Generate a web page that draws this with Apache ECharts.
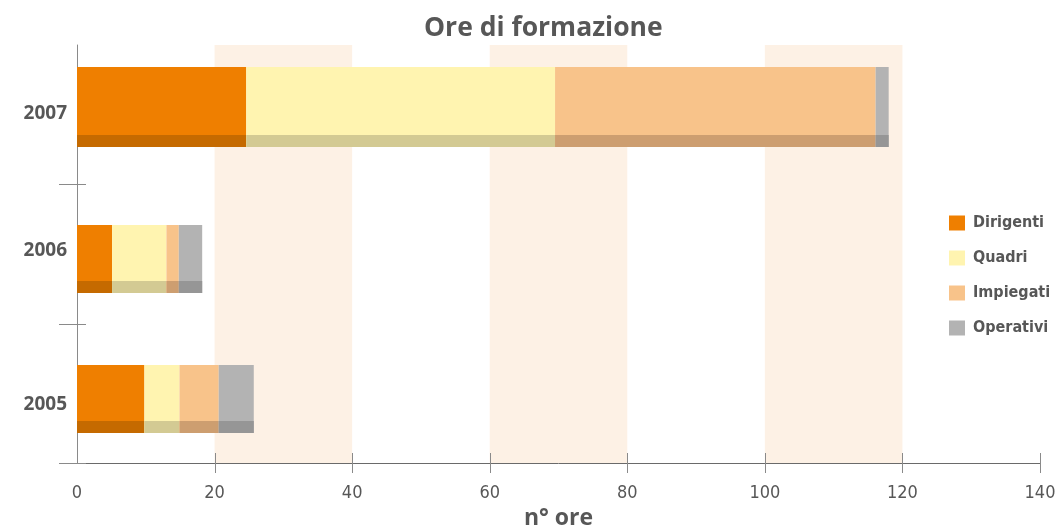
<!DOCTYPE html>
<html>
<head>
<meta charset="utf-8">
<script src="https://cdn.jsdelivr.net/npm/echarts@6/dist/echarts.min.js"></script>
<style>
  html, body { margin: 0; padding: 0; background: #ffffff; }
  #chart { width: 1055px; height: 525px; }
</style>
</head>
<body>
<div id="chart"></div>
<script>
// Training hours per year, split by staff group
const categories = ['2005', '2006', '2007'];
const dirigenti = [9.8, 5.1, 24.6];
const quadri    = [5.1, 7.9, 44.9];
const impiegati = [5.7, 1.8, 46.6];
const operativi = [5.1, 3.4, 1.9];
const xTicks = { min: 0, max: 140, interval: 20 };

const groups = [
  { name: 'Dirigenti', values: dirigenti, color: '#EF7F00', dark: '#C56A00' },
  { name: 'Quadri',    values: quadri,    color: '#FFF4B0', dark: '#D3CA93' },
  { name: 'Impiegati', values: impiegati, color: '#F8C38A', dark: '#CD9E70' },
  { name: 'Operativi', values: operativi, color: '#B3B3B3', dark: '#969696' }
];

// bar thickness (px) and vertical nudge from the band centre, per category
const barThickness = [68, 68, 80];
const barNudge = [6, 5, -8];
// label padding [top, bottom] per category, shifting the year labels a little
const labelPad = [[22, 0], [0, 6], [0, 2]];
// shaded strip along the bottom of each bar
const stripHeight = 12;

const textColor = '#575757';
const axisColor = '#8a8a8a';
const narrowFont = '"DejaVu Sans Condensed", "Liberation Sans Narrow", "Open Sans", sans-serif';
const yearFont = { fontFamily: '"Open Sans", sans-serif', fontWeight: 'bold', fontSize: 19, color: textColor };

// rich styles for the year labels
const yearRich = {};
categories.forEach((c, i) => {
  yearRich['y' + i] = Object.assign({}, yearFont, { padding: [labelPad[i][0], 0, labelPad[i][1], 0] });
});

// stacked [start, end, categoryIndex] triples
const running = categories.map(() => 0);
const stackedSeries = groups.map(g => {
  const data = g.values.map((v, i) => {
    const s = running[i];
    running[i] += v;
    return [s, s + v, i];
  });
  return {
    name: g.name,
    type: 'custom',
    itemStyle: { color: g.color },
    encode: { x: [0, 1], y: 2 },
    data: data,
    z: 3,
    renderItem: function (params, api) {
      const cat = api.value(2);
      const p0 = api.coord([api.value(0), cat]);
      const p1 = api.coord([api.value(1), cat]);
      const h = barThickness[cat];
      const top = Math.round(p0[1] + barNudge[cat] - h / 2);
      const w = p1[0] - p0[0];
      return {
        type: 'group',
        children: [
          { type: 'rect', shape: { x: p0[0], y: top, width: w, height: h },
            style: { fill: g.color } },
          { type: 'rect', shape: { x: p0[0], y: top + h - stripHeight, width: w, height: stripHeight },
            style: { fill: g.dark } }
        ]
      };
    }
  };
});

// category boundary ticks crossing the vertical axis
const yTickSeries = {
  type: 'custom',
  silent: true,
  clip: false,
  z: 5,
  encode: { x: 0, y: 1 },
  data: categories.map((c, i) => [0, i]),
  renderItem: function (params, api) {
    const c = api.coord([0, api.value(1)]);
    const band = api.size([0, 1])[1];
    const y = Math.round(c[1] + band / 2) + 0.5;
    return {
      type: 'line',
      shape: { x1: c[0] - 18, y1: y, x2: c[0] + 9, y2: y },
      style: { stroke: axisColor, lineWidth: 1 }
    };
  }
};

// value ticks crossing the horizontal axis (none at the origin)
const xTickValues = [];
for (let v = xTicks.min + xTicks.interval; v <= xTicks.max; v += xTicks.interval) xTickValues.push(v);
const xTickSeries = {
  type: 'custom',
  silent: true,
  clip: false,
  z: 5,
  encode: { x: 0, y: 1 },
  data: xTickValues.map(v => [v, 0]),
  renderItem: function (params, api) {
    const c = api.coord([api.value(0), 0]);
    const band = api.size([0, 1])[1];
    const x = Math.round(c[0]) + 0.5;
    const y = c[1] + band / 2;
    return {
      type: 'line',
      shape: { x1: x, y1: y - 10, x2: x, y2: y + 10 },
      style: { stroke: axisColor, lineWidth: 1 }
    };
  }
};

const chart = echarts.init(document.getElementById('chart'), null, { renderer: 'canvas' });
chart.setOption({
  animation: false,
  backgroundColor: '#ffffff',
  title: {
    text: 'Ore di formazione',
    left: 424,
    top: 15,
    padding: 0,
    textStyle: { fontFamily: '"Open Sans", sans-serif', fontWeight: 'bold', fontSize: 26.5, color: textColor }
  },
  legend: {
    orient: 'vertical',
    left: 949,
    top: 215,
    padding: 0,
    icon: 'rect',
    itemWidth: 16,
    itemHeight: 15,
    itemGap: 19,
    data: groups.map(g => g.name),
    textStyle: { fontFamily: narrowFont, fontWeight: 'bold', fontSize: 16, color: textColor, padding: [0, 0, 0, 3] }
  },
  grid: { left: 77, right: 15, top: 45, bottom: 62, containLabel: false, outerBoundsMode: 'none' },
  xAxis: {
    type: 'value',
    min: xTicks.min, max: xTicks.max, interval: xTicks.interval,
    name: 'n° ore',
    nameLocation: 'middle',
    nameGap: 41,
    nameTextStyle: { fontFamily: '"Open Sans", sans-serif', fontWeight: 'bold', fontSize: 23, color: textColor },
    axisLine: { show: true, lineStyle: { color: '#6a6a6a', width: 1 } },
    axisTick: { show: false },
    axisLabel: { fontFamily: narrowFont, fontSize: 18, color: textColor, margin: 21 },
    splitLine: { show: false },
    splitArea: { show: true, areaStyle: { color: ['rgba(255,255,255,0)', '#FDF1E5'] } }
  },
  yAxis: {
    type: 'category',
    data: categories,
    axisLine: { show: true, lineStyle: { color: axisColor, width: 1 } },
    axisTick: { show: false },
    axisLabel: Object.assign({}, yearFont, {
      margin: 10,
      formatter: function (value, index) { return '{y' + index + '|' + value + '}'; },
      rich: yearRich
    }),
    splitLine: { show: false }
  },
  series: stackedSeries.concat([yTickSeries, xTickSeries])
});
</script>
</body>
</html>
